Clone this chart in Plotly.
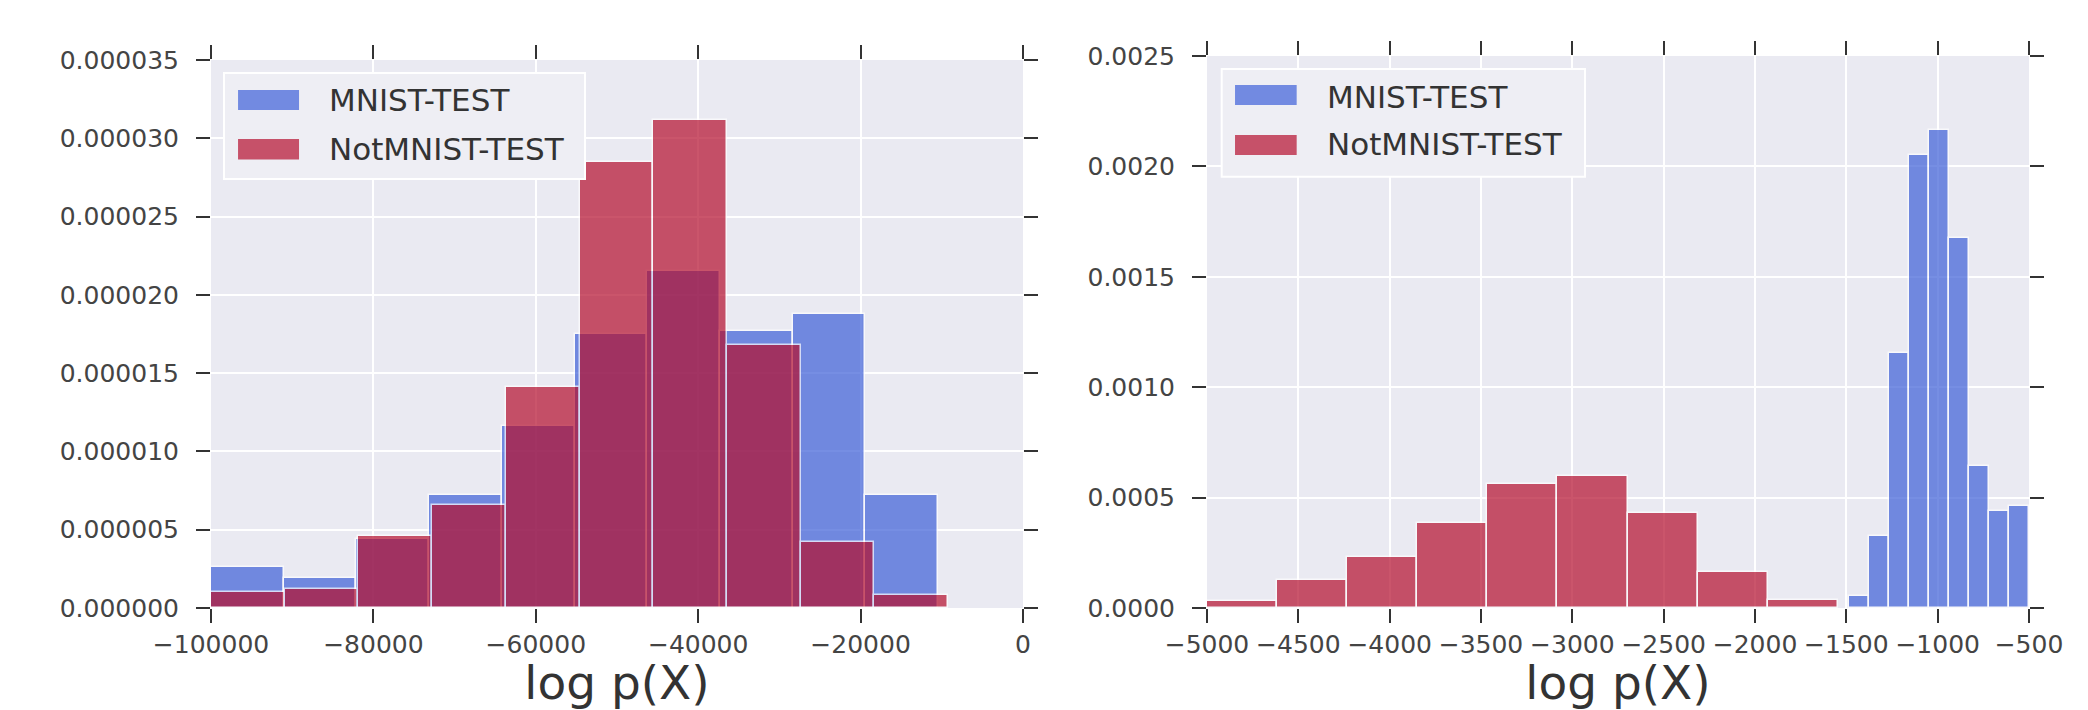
import plotly.graph_objects as go
from plotly.subplots import make_subplots

# ---------------- data ----------------
series_names = ["MNIST-TEST", "NotMNIST-TEST"]

# Left panel: histogram bin edges and densities
left_mnist_edges = [-100000, -91045, -82090, -73135, -64180, -55225, -46270, -37315, -28360, -19405, -10450]
left_mnist_density = [2.6e-6, 1.9e-6, 4.4e-6, 7.2e-6, 11.6e-6, 17.5e-6, 21.5e-6, 17.7e-6, 18.8e-6, 7.2e-6]
left_notmnist_edges = [-100000, -90922, -81844, -72766, -63688, -54610, -45532, -36454, -27376, -18298, -9220]
left_notmnist_density = [1.0e-6, 1.2e-6, 4.6e-6, 6.6e-6, 14.1e-6, 28.5e-6, 31.2e-6, 16.8e-6, 4.2e-6, 0.8e-6]

# Right panel
right_mnist_edges = [-1488, -1378, -1268, -1158, -1048, -938, -828, -718, -608, -498]
right_mnist_density = [0.000053, 0.000327, 0.001157, 0.002053, 0.002165, 0.001675, 0.000641, 0.000439, 0.000461]
right_notmnist_edges = [-5002, -4618, -4234, -3850, -3466, -3082, -2698, -2314, -1930, -1546]
right_notmnist_density = [0.000033, 0.000126, 0.000229, 0.000386, 0.000563, 0.000600, 0.000431, 0.000163, 0.000035]

left_xticks = [-100000, -80000, -60000, -40000, -20000, 0]
left_xticklabels = ["\u2212100000", "\u221280000", "\u221260000", "\u221240000", "\u221220000", "0"]
left_yticks = [0, 0.000005, 0.00001, 0.000015, 0.00002, 0.000025, 0.00003, 0.000035]
right_xticks = [-5000, -4500, -4000, -3500, -3000, -2500, -2000, -1500, -1000, -500]
right_xticklabels = ["\u22125000", "\u22124500", "\u22124000", "\u22123500", "\u22123000",
                     "\u22122500", "\u22122000", "\u22121500", "\u22121000", "\u2212500"]
right_yticks = [0, 0.0005, 0.001, 0.0015, 0.002, 0.0025]
x_title = "log p(X)"

# ---------------- styling ----------------
BLUE = "rgb(61,95,216)"
RED = "rgb(181,14,45)"
BG = "#EAEAF2"
FONT = "DejaVu Sans"
TICK_COLOR = "#333333"
LABEL_COLOR = "#444444"


def centers_widths(edges):
    c = [(a + b) / 2 for a, b in zip(edges[:-1], edges[1:])]
    w = [(b - a) for a, b in zip(edges[:-1], edges[1:])]
    return c, w


fig = make_subplots(rows=1, cols=2, horizontal_spacing=0.0)

panels = [
    (1, [(left_mnist_edges, left_mnist_density, BLUE), (left_notmnist_edges, left_notmnist_density, RED)]),
    (2, [(right_mnist_edges, right_mnist_density, BLUE), (right_notmnist_edges, right_notmnist_density, RED)]),
]
for col, series in panels:
    for (edges, dens, color), name in zip(series, series_names):
        c, w = centers_widths(edges)
        fig.add_trace(
            go.Bar(x=c, y=dens, width=w, name=name, showlegend=False,
                   marker=dict(color=color, line=dict(color="white", width=1.5)),
                   opacity=0.7),
            row=1, col=col,
        )

fig.update_layout(
    width=2088, height=710,
    margin=dict(l=211, r=59, t=56, b=102, autoexpand=False),
    paper_bgcolor="white", plot_bgcolor=BG,
    barmode="overlay", bargap=0,
    font=dict(family=FONT, size=25, color=LABEL_COLOR),
)

axis_common = dict(
    showgrid=True, gridcolor="white", gridwidth=2,
    zeroline=False, showline=False, automargin=False,
    ticks="outside", ticklen=14, tickwidth=2, tickcolor=TICK_COLOR,
    mirror="ticks",
    tickfont=dict(family=FONT, size=25, color=LABEL_COLOR),
)
title_font = dict(family=FONT, size=47, color="#333333")

fig.update_xaxes(domain=[0, 0.44664], range=[-100000, 0], tickvals=left_xticks, ticktext=left_xticklabels,
                 title=dict(text=x_title, font=title_font, standoff=4),
                 row=1, col=1, **axis_common)
fig.update_xaxes(domain=[0.54785, 1], range=[-5000, -500], tickvals=right_xticks, ticktext=right_xticklabels,
                 title=dict(text=x_title, font=title_font, standoff=4),
                 row=1, col=2, **axis_common)
fig.update_yaxes(domain=[0, 0.99275], range=[0, 0.000035], tickvals=left_yticks, tickformat=".6f",
                 ticklabelstandoff=12, row=1, col=1, **axis_common)
fig.update_yaxes(domain=[0, 1], range=[0, 0.0025], tickvals=right_yticks, tickformat=".4f",
                 ticklabelstandoff=12, row=1, col=2, **axis_common)

# ---------------- legends (drawn in axis-domain coordinates) ----------------
legend_specs = [
    ("x domain", "y domain", dict(box=(0.016, 0.7828, 0.4606, 0.9763),
                                  px=(0.0333, 0.1084), rows=[(0.9088, 0.9453), (0.8184, 0.8558)],
                                  tx=0.1429, ty=[0.9261, 0.8385])),
    ("x2 domain", "y2 domain", dict(box=(0.0179, 0.7813, 0.4599, 0.9764),
                                    px=(0.0341, 0.1091), rows=[(0.9112, 0.9475), (0.8207, 0.8569)],
                                    tx=0.1436, ty=[0.9257, 0.8406])),
]
for xr, yr, s in legend_specs:
    x0, y0, x1, y1 = s["box"]
    fig.add_shape(type="rect", xref=xr, yref=yr, x0=x0, y0=y0, x1=x1, y1=y1,
                  fillcolor="#EEEEF4", line=dict(color="white", width=2), layer="above")
    for (ya, yb), color, name, ty in zip(s["rows"], [BLUE, RED], series_names, s["ty"]):
        fig.add_shape(type="rect", xref=xr, yref=yr, x0=s["px"][0], x1=s["px"][1], y0=ya, y1=yb,
                      fillcolor=color, opacity=0.7, line=dict(width=0), layer="above")
        fig.add_annotation(xref=xr, yref=yr, x=s["tx"], y=ty, text=name, showarrow=False,
                           xanchor="left", yanchor="middle",
                           font=dict(family=FONT, size=31, color="#333333"))

fig.write_html("out.html", config={"displayModeBar": False},
               post_script="document.body.style.margin='0';document.body.style.overflow='hidden';")
